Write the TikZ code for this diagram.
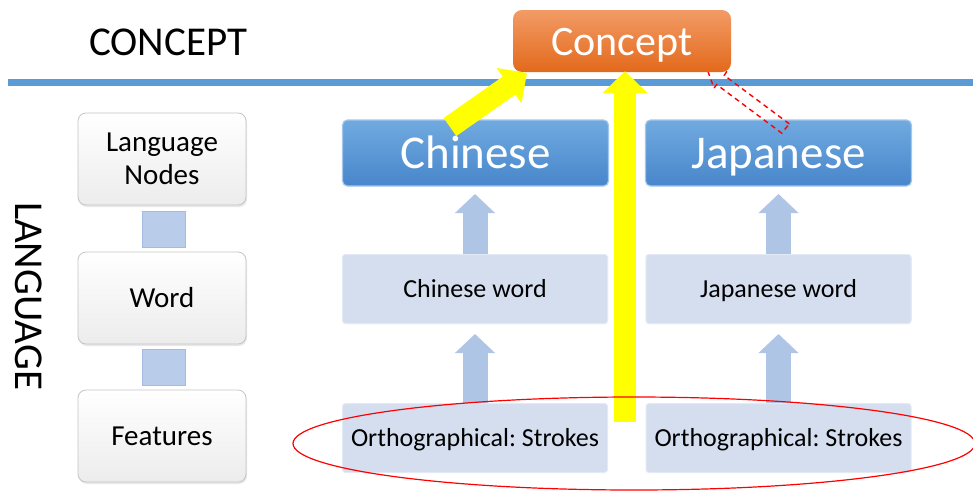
\documentclass[tikz,border=0pt]{standalone}
\usepackage{fontspec}
\setmainfont{Carlito}
\usetikzlibrary{arrows.meta,calc,shadows}
\frenchspacing

\definecolor{rule}{HTML}{5B9BD5}
\definecolor{boxline}{HTML}{C4C4C4}
\definecolor{boxshade}{HTML}{ECECEC}
\definecolor{sqfill}{HTML}{B9CDEA}
\definecolor{sqline}{HTML}{A2BBDF}
\definecolor{langtop}{HTML}{70AAE0}
\definecolor{langbot}{HTML}{4886CB}
\definecolor{langline}{HTML}{A3C6EC}
\definecolor{wordfill}{HTML}{D4DEEF}
\definecolor{wordline}{HTML}{E3EAF5}
\definecolor{uparrow}{HTML}{AFC5E6}
\definecolor{ortop}{HTML}{F29B66}
\definecolor{orbot}{HTML}{E3691B}
\definecolor{hilite}{HTML}{FFFF00}
\definecolor{ring}{HTML}{FF0000}

\tikzset{
  leftbox/.style={draw=boxline, line width=0.8pt, rounded corners=8pt,
    top color=white, bottom color=boxshade,
    drop shadow={opacity=0.18, shadow xshift=1pt, shadow yshift=-2pt},
    minimum width=168pt, minimum height=92pt, inner sep=0pt, align=center,
    font=\fontsize{29}{33}\selectfont},
  joint/.style={fill=sqfill, draw=sqline, line width=0.5pt,
    minimum width=43pt, minimum height=36pt, inner sep=0pt},
  langbox/.style={draw=langline, line width=1.2pt, rounded corners=5pt,
    top color=langtop, bottom color=langbot, text=white,
    minimum width=266pt, minimum height=66pt, inner sep=0pt,
    text height=31pt, text depth=0pt,
    font=\fontsize{47}{50}\selectfont},
  wordbox/.style={fill=wordfill, draw=wordline, line width=1pt, rounded corners=3pt,
    minimum width=265pt, minimum height=69pt, inner sep=0pt,
    text height=17pt, text depth=0pt,
    font=\fontsize{26}{28}\selectfont},
  conceptbox/.style={rounded corners=9pt, top color=ortop, bottom color=orbot,
    text=white, minimum width=218pt, minimum height=62pt, inner sep=0pt,
    text height=28pt, text depth=0pt,
    font=\fontsize{42}{44}\selectfont},
  liftarrow/.style={draw=uparrow, line width=25pt,
    -{Triangle[width=39pt,length=19pt]}},
  boldarrow/.style={draw=hilite, line width=22pt,
    -{Triangle[width=44pt,length=22pt]}},
  hollowarrow/.style={draw=ring, line width=1.4pt, dash pattern=on 5pt off 4pt},
  heading/.style={font=\fontsize{41}{43}\selectfont, inner sep=0pt}
}

\begin{document}
\begin{tikzpicture}[x=1pt,y=-1pt]
\useasboundingbox (0,0) rectangle (973,493);

% section headings and the dividing rule
\node[heading] (hconcept) at (168,42) {CONCEPT};
\node[heading, rotate=-90] (hlanguage) at (29,296) {LANGUAGE};
\draw[rule, line width=7pt] (8,82) -- (973,82);

% left-hand legend column
\node[leftbox] (lnodes) at (162,159) {Language\\Nodes};
\node[joint] (j1) at (163.5,229) {};
\node[leftbox] (lword) at (162,298) {Word};
\node[joint] (j2) at (163.5,367) {};
\node[leftbox] (lfeat) at (162,436) {Features};

% word boxes placed first so the upward links can refer to them
\node[wordbox] (cw) at (475,289) {Chinese word};
\node[wordbox] (jw) at (778.5,289) {Japanese word};
\coordinate (cwfoot) at (475,404);
\coordinate (jwfoot) at (778.5,404);
\draw[liftarrow] (cw.center) -- ($(cw.north)+(0,-60)$);
\draw[liftarrow] (cwfoot) -- ($(cw.south)+(0,10)$);
\draw[liftarrow] (jw.center) -- ($(jw.north)+(0,-60)$);
\draw[liftarrow] (jwfoot) -- ($(jw.south)+(0,10)$);

% language nodes
\node[langbox] (zh) at (475.5,153) {Chinese};
\node[langbox] (ja) at (778.5,153) {Japanese};

% word and feature boxes (redrawn on top of the link tails)
\node[wordbox] (cw) at (475,289) {Chinese word};
\node[wordbox] (jw) at (778.5,289) {Japanese word};
\node[wordbox] (co) at (475,438) {Orthographical: Strokes};
\node[wordbox] (jo) at (778.5,438) {Orthographical: Strokes};

% weak Japanese route to the concept: dashed hollow arrow
\coordinate (dt1) at (789.3,123.9);
\coordinate (dt2) at (781.7,133.1);
\coordinate (ds1) at (724.3,75.4);
\coordinate (ds2) at (716.7,84.6);
\coordinate (dh1) at (727.0,71.0);
\coordinate (dh2) at (714.0,88.0);
\coordinate (dtip) at (707.2,69.4);
\draw[hollowarrow] (dt1) -- (ds1) -- (dh1) -- (dtip) -- (dh2) -- (ds2) -- (dt2) -- cycle;

% concept node
\node[conceptbox] (concept) at (622,41) {Concept};

% strong routes to the concept
\coordinate (zhtail) at (450,127);
\coordinate (zhtip) at (527,73);
\draw[boldarrow, -{Triangle[width=42pt,length=22pt]}] (zhtail) -- (zhtip);
\coordinate (orthtail) at (625,422);
\draw[boldarrow] (orthtail) -- ($(concept.south)+(3,-1)$);

% shared orthographic features
\draw[ring, line width=1.2pt] (634,443.5) ellipse [x radius=341pt, y radius=46.5pt];
\end{tikzpicture}
\end{document}
